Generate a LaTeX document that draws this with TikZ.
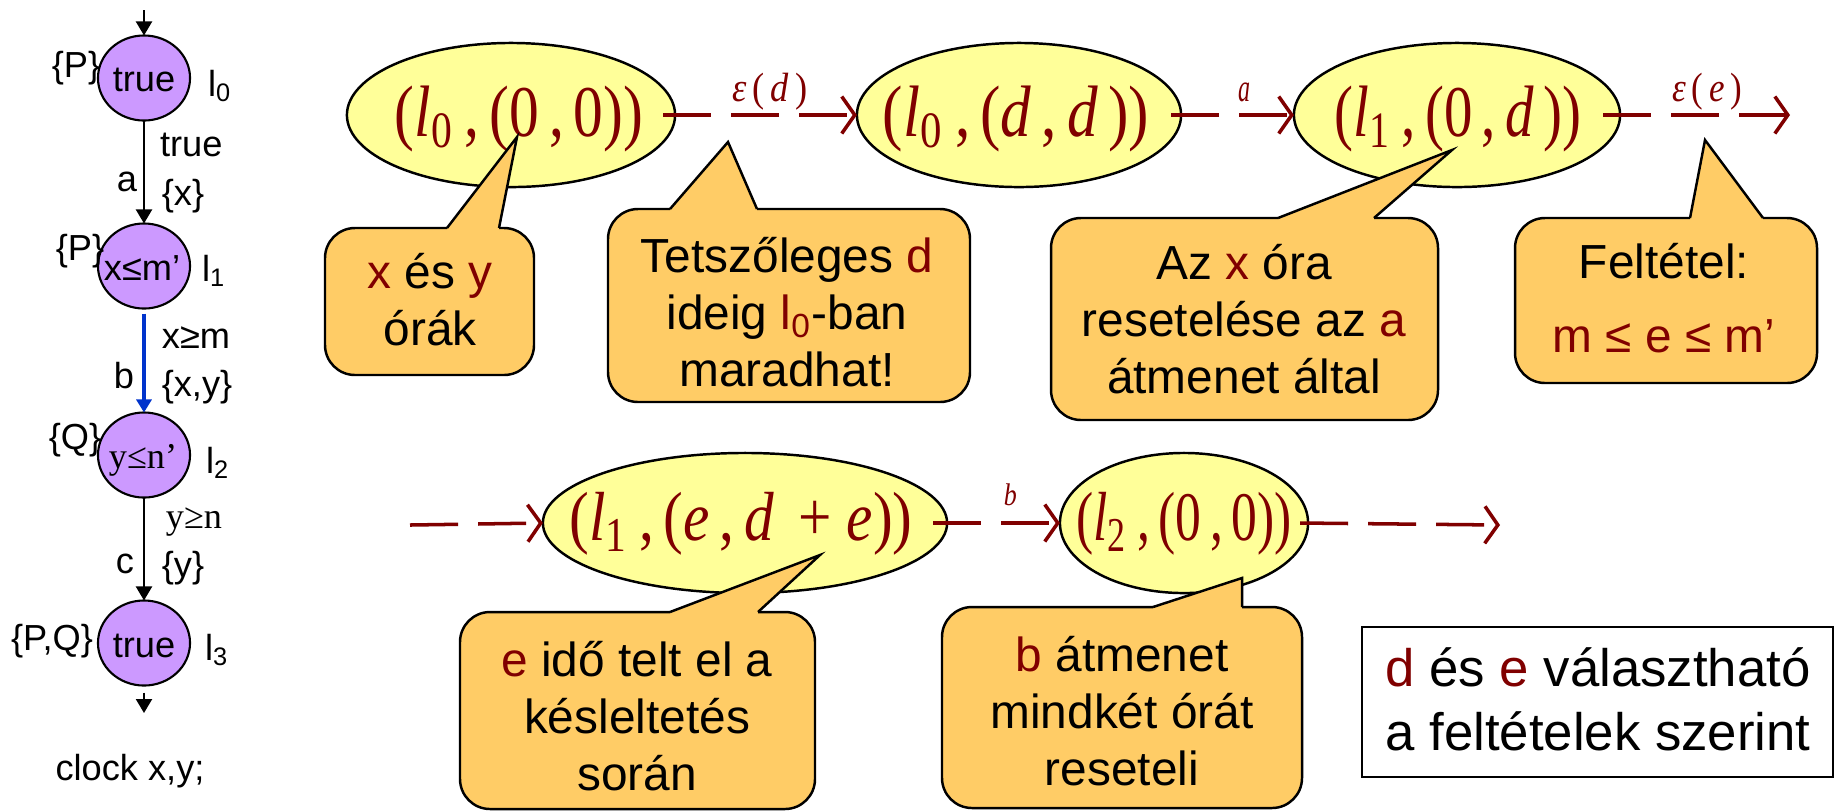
\documentclass[tikz,border=0pt]{standalone}
\usepackage{fontspec}
\setmainfont{Liberation Sans}
\newfontfamily\serifface{Liberation Serif}
\usetikzlibrary{arrows.meta,shapes.geometric}
\definecolor{dred}{RGB}{128,0,0}
\definecolor{ellfill}{RGB}{255,255,153}
\definecolor{callfill}{RGB}{255,204,102}
\definecolor{stfill}{RGB}{204,153,255}
\definecolor{eblue}{RGB}{0,51,204}
\newcommand{\rd}[1]{\textcolor{dred}{#1}}
\newcommand{\wtab}[2][1]{\scalebox{#1}[1]{\begin{tabular}{@{}c@{}}#2\end{tabular}}}
\newcommand{\etx}[3][0.66cm]{\resizebox*{#2}{#1}{\serifface\color{dred}#3}}
% xL yT xR yB baseL baseR tipx tipy
\newcommand{\mycallout}[8]{%
  \fill[callfill,rounded corners=0.3cm] (#1,#2) rectangle (#3,#4);
  \fill[callfill] (#5,#2+1) -- (#7,#8) -- (#6,#2+1) -- cycle;
  \draw[cline,rounded corners=0.3cm] (#6,#2) -- (#3,#2) -- (#3,#4) -- (#1,#4) -- (#1,#2) -- (#5,#2);
  \draw[cline,line join=miter] (#5,#2) -- (#7,#8) -- (#6,#2);
}
\begin{document}
\begin{tikzpicture}[x=0.01cm,y=-0.01cm,
  every node/.style={inner sep=0pt,outer sep=0pt},
  st/.style={ellipse,draw,line width=0.6pt,fill=stfill,minimum width=0.92cm,minimum height=0.85cm},
  lab/.style={font=\fontsize{10.3}{12}\selectfont},
  slab/.style={font=\fontsize{10.3}{12}\selectfont\serifface},
  edge/.style={line width=0.6pt,-{Triangle[length=0.14cm,width=0.16cm]}},
  bedge/.style={draw=eblue,line width=1.4pt,-{Triangle[length=0.13cm,width=0.15cm]}},
  ell/.style={ellipse,draw,line width=0.7pt,fill=ellfill},
  darr/.style={draw=dred,line width=1pt,dash pattern=on 0.48cm off 0.2cm,-{Straight Barb[length=0.13cm,width=0.37cm]}},
  cline/.style={draw=black,line width=0.7pt,line join=round},
  ctext/.style={font=\fontsize{13.6}{16.2}\selectfont},
  btext/.style={font=\fontsize{15}{18.2}\selectfont},
]
\useasboundingbox (0,0) rectangle (1837,811);

% ---------------- left automaton ----------------
\coordinate (init) at (144,10);
\node[st] (s0) at (144,78) {};
\node[st] (s1) at (144,266) {};
\node[st] (s2) at (144,455) {};
\node[st] (s3) at (144,643) {};
\coordinate (fin) at (144,713);

\node[lab] (t0) at (144,80) {true};
\node[lab] (t1) at (142,268) {x≤m’};
\node[slab] (t2) at (143,460) {y≤n’};
\node[lab] (t3) at (144,646) {true};

\draw[edge] (init) -- (s0);
\draw[edge] (s0) -- (s1);
\draw[bedge,shorten <=0.05cm] (s1) -- (s2);
\draw[edge] (s2) -- (s3);
\draw[edge,shorten <=0.07cm] (s3) -- (fin);

\node[lab] (p0) at (76,68) {\{P\}};
\node[lab] (n0) at (220,86) {l\textsubscript{0}};
\node[lab,anchor=west] (g01) at (160,145) {true};
\node[lab] (a01) at (127,182) {a};
\node[lab] (r01) at (183,196) {\{x\}};
\node[lab] (p1) at (80,251) {\{P\}};
\node[lab] (n1) at (214,271) {l\textsubscript{1}};
\node[lab] (g12) at (196,338) {x≥m};
\node[lab] (a12) at (124,376) {b};
\node[lab] (r12) at (197,387) {\{x,y\}};
\node[lab] (q2) at (75,440) {\{Q\}};
\node[lab] (n2) at (218,463) {l\textsubscript{2}};
\node[slab] (g23) at (194,522) {y≥n};
\node[lab] (a23) at (125,564) {c};
\node[lab] (r23) at (183,568) {\{y\}};
\node[lab] (pq3) at (52,641) {\{P,Q\}};
\node[lab] (n3) at (217,650) {l\textsubscript{3}};
\node[lab] (clk) at (130,771) {clock x,y;};

% ---------------- run ----------------
\node[ell,minimum width=3.28cm,minimum height=1.44cm] (e1) at (511,115) {};
\node[ell,minimum width=3.24cm,minimum height=1.44cm] (e2) at (1019,115) {};
\node[ell,minimum width=3.26cm,minimum height=1.44cm] (e3) at (1457,115) {};
\node[ell,minimum width=4.04cm,minimum height=1.40cm] (e4) at (745,523) {};
\node[ell,minimum width=2.48cm,minimum height=1.40cm] (e5) at (1184,523) {};

\node (x1) at (519,119) {\etx{2.48cm}{(\textit{l}\textsubscript{0}\,,\,(0\,,\,0))}};
\node (x2) at (1016,119) {\etx{2.66cm}{(\textit{l}\textsubscript{0}\,,\,(\textit{d}\,,\,\textit{d}\,))}};
\node (x3) at (1458,119) {\etx{2.47cm}{(\textit{l}\textsubscript{1}\,,\,(0\,,\,\textit{d}\,))}};
\node (x4) at (741,524) {\etx[0.63cm]{3.43cm}{(\textit{l}\textsubscript{1}\,,\,(\textit{e}\,,\,\textit{d}\, + \textit{e}))}};
\node (x5) at (1184,524) {\etx[0.63cm]{2.15cm}{(\textit{l}\textsubscript{2}\,,\,(0\,,\,0))}};

\coordinate (st0) at (410,525);
\coordinate (end1) at (1790,115);
\coordinate (end2) at (1500,525);

\draw[darr] ([xshift=-0.12cm]e1.east) -- node[pos=0.55,yshift=0.23cm] (l1) {\etx[0.37cm]{0.75cm}{\textit{ε}\,(\,\textit{d}\,)}} (e2.west);
\draw[darr] ([xshift=-0.1cm]e2.east) -- node[pos=0.6,yshift=0.23cm] (l2) {\resizebox*{0.12cm}{0.19cm}{\serifface\color{dred}\textit{a}}} (e3.west);
\draw[darr] ([xshift=-0.17cm]e3.east) -- node[pos=0.556,yshift=0.23cm] (l3) {\etx[0.37cm]{0.70cm}{\textit{ε}\,(\,\textit{e}\,)}} (end1);
\draw[darr] (st0) -- (e4.west);
\draw[darr] ([xshift=-0.14cm]e4.east) -- node[pos=0.61,yshift=0.28cm] (l4) {\resizebox*{0.13cm}{0.22cm}{\serifface\color{dred}\textit{b}}} (e5.west);
\draw[darr] ([xshift=-0.08cm]e5.east) -- (end2);

% ---------------- callouts ----------------
\mycallout{325}{228}{534}{375}{447}{499}{517}{137}
\node[ctext] (c1) at (430,306) {\wtab{\rd{x} és \rd{y}\\órák}};

\mycallout{608}{209}{970}{402}{670}{757}{728}{142}
\node[ctext] (c2) at (787,318) {\wtab{Tetszőleges \rd{d}\\ideig \rd{l\textsubscript{0}}-ban\\maradhat!}};

\mycallout{1051}{218}{1438}{420}{1278}{1374}{1452}{150}
\node[ctext] (c3) at (1244,325) {\wtab{Az \rd{x} óra\\resetelése az \rd{a}\\átmenet által}};

\mycallout{1515}{218}{1817}{383}{1690}{1763}{1705}{140}
\node[ctext] (c4) at (1664,304) {\wtab{Feltétel:\\[4.8pt]\rd{m ≤ e ≤ m’}}};

\mycallout{460}{612}{815}{809}{670}{758}{820}{555}
\node[ctext] (c5) at (637,722) {\wtab{\rd{e} idő telt el a\\késleltetés\\során}};

\mycallout{942}{607}{1302}{808}{1153}{1242}{1242}{578}
\node[ctext] (c6) at (1122,717) {\wtab{\rd{b} átmenet\\mindkét órát\\reseteli}};

% ---------------- note box ----------------
\draw[line width=0.6pt] (1362,627) rectangle (1833,777);
\node[btext] (note) at (1598,706) {\wtab{\rd{d} és \rd{e} választható\\a feltételek szerint}};
\end{tikzpicture}
\end{document}
